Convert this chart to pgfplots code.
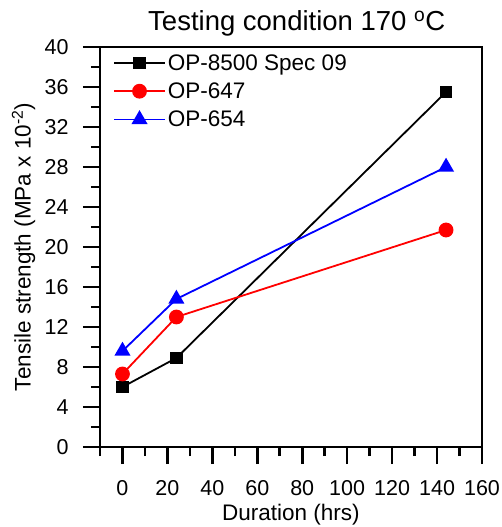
\documentclass[border=0pt]{standalone}
\usepackage{pgfplots}
\pgfplotsset{compat=1.18}
\usepackage{fontspec}
\setmainfont{Liberation Sans}

\begin{document}
\begin{tikzpicture}
\begin{axis}[
  name=ax,
  scale only axis,
  width=382pt, height=400pt,
  xmin=-10, xmax=160,
  ymin=0, ymax=40,
  xtick={0,20,...,160},
  minor xtick={-10,10,30,...,150},
  ytick={0,4,...,40},
  minor ytick={2,6,...,38},
  xtick pos=left, ytick pos=left,
  tick align=outside,
  major tick length=17pt,
  minor tick length=9pt,
  every tick/.style={line width=2.6pt, black},
  axis line style={line width=2.6pt},
  /pgf/number format/assume math mode=true,
  tick label style={font=\fontsize{21.5}{24}\selectfont},
  xticklabel style={yshift=-13pt},
  yticklabel style={xshift=-11pt},
  label style={font=\fontsize{22.5}{25}\selectfont},
  xlabel={Duration (hrs)},
  ylabel={Tensile strength (MPa x 10\textsuperscript{-2})},
  xlabel style={at={(axis description cs:0.5,-0.17)}, anchor=center},
  ylabel style={at={(axis description cs:-0.2,0.5)}, anchor=center},
  title={Testing condition 170 \textsuperscript{o}C},
  title style={font=\fontsize{27.5}{30}\selectfont,
    at={(axis description cs:0.515,1.043)}, anchor=center},
  legend style={at={(0.026,0.992)}, anchor=north west, draw=none, fill=none,
    font=\fontsize{22.5}{25}\selectfont, row sep=7pt},
  legend cell align=left,
  legend image code/.code={
    \draw[mark repeat=2,mark phase=2] plot coordinates {(0pt,0pt) (25.5pt,0pt) (51pt,0pt)};},
]
\addplot[black, line width=1.8pt, mark=square*, mark size=5.5pt] coordinates
  {(0,6.0) (24,8.9) (144,35.5)};
\addplot[red, line width=1.8pt, mark=*, mark size=6.5pt] coordinates
  {(0,7.3) (24,13.0) (144,21.7)};
\addplot[blue, line width=1.8pt, mark=triangle*, mark size=7.5pt] coordinates
  {(0,9.6) (24,14.8) (144,28.0)};
\legend{OP-8500 Spec 09, OP-647, OP-654}
\end{axis}
\pgfresetboundingbox
\path[use as bounding box] ([shift={(-100pt,-80pt)}]ax.south west)
  rectangle ([shift={(402pt,447pt)}]ax.south west);
\end{tikzpicture}
\end{document}
